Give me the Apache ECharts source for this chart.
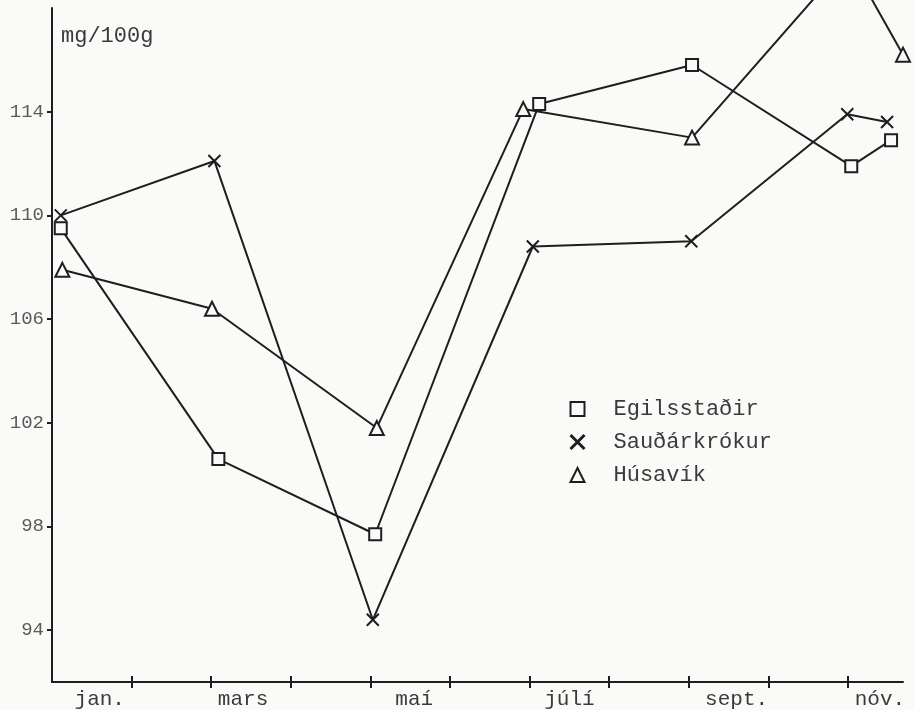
<!DOCTYPE html>
<html>
<head>
<meta charset="utf-8">
<script src="https://cdn.jsdelivr.net/npm/echarts@6/dist/echarts.min.js"></script>
<style>
html,body{margin:0;padding:0;background:#fafaf8;}
#c{width:915px;height:710px;}
</style>
</head>
<body>
<div id="c"></div>
<script>
// Month labels and their positions (month units, 0 = start of jan.)
const monthLabels = ['jan.', 'mars', 'maí', 'júlí', 'sept.', 'nóv.'];
const monthLabelPos = [0.6, 2.4, 4.55, 6.5, 8.6, 10.4];
const monthTicks = [1, 2, 3, 4, 5, 6, 7, 8, 9, 10];
const yTicks = [94, 98, 102, 106, 110, 114];

// Series: sampling times (months) and values (mg/100g)
const seriesNames = ['Egilsstaðir', 'Sauðárkrókur', 'Húsavík'];
const egilsX = [0.11, 2.09, 4.06, 6.12, 8.04, 10.04, 10.54];
const egilsY = [109.5, 100.6, 97.7, 114.3, 115.8, 111.9, 112.9];
const saudX = [0.11, 2.04, 4.03, 6.04, 8.03, 9.99, 10.49];
const saudY = [110.0, 112.1, 94.4, 108.8, 109.0, 113.9, 113.6];
const husX = [0.13, 2.01, 4.08, 5.92, 8.04, 10.01, 10.69];
const husY = [107.9, 106.4, 101.8, 114.1, 113.0, 119.9, 116.2];

const INK = '#1e1e1e';
const TXT = '#3a3a3a';
const FONT = '"Liberation Mono", "DejaVu Sans Mono", monospace';
const crossPath = 'path://M0,0L10,10M10,0L0,10';

function pairs(xs, ys) { return xs.map((x, i) => [x, ys[i]]); }

function mkSeries(name, xs, ys, symbol, size) {
  return {
    name: name,
    type: 'line',
    data: pairs(xs, ys),
    clip: false,
    symbol: symbol,
    symbolSize: size,
    symbolKeepAspect: true,
    showAllSymbol: true,
    lineStyle: { color: INK, width: 2 },
    itemStyle: { color: '#fafaf8', borderColor: INK, borderWidth: 2 },
    emphasis: { disabled: true },
    z: 3
  };
}

const chart = echarts.init(document.getElementById('c'), null, { renderer: 'canvas' });
chart.setOption({
  backgroundColor: '#fafaf8',
  animation: false,
  title: {
    text: 'mg/100g',
    left: 56, top: 20,
    textStyle: { fontFamily: FONT, fontSize: 22, fontWeight: 'normal', color: TXT }
  },
  legend: {
    orient: 'vertical',
    left: 564, top: 393,
    itemWidth: 14, itemHeight: 14,
    itemGap: 11,
    selectedMode: false,
    textStyle: { fontFamily: FONT, fontSize: 22, color: TXT, lineHeight: 22, padding: [0, 0, 0, 24] },
    itemStyle: { color: '#fafaf8', borderColor: INK, borderWidth: 2 },
    data: [
      { name: seriesNames[0], icon: 'rect' },
      { name: seriesNames[1], icon: crossPath, itemStyle: { borderWidth: 3 } },
      { name: seriesNames[2], icon: 'triangle' }
    ]
  },
  grid: { left: 52, right: 12, top: 8, bottom: 28, containLabel: false },
  xAxis: [{
    type: 'value', min: 0, max: 10.69, position: 'bottom',
    axisLine: { show: true, lineStyle: { color: INK, width: 2 } },
    axisTick: { show: true, customValues: monthTicks, length: 6, lineStyle: { color: INK, width: 2 } },
    axisLabel: {
      show: true, customValues: monthLabelPos, margin: 7,
      fontFamily: FONT, fontSize: 21, color: TXT,
      formatter: v => { const i = monthLabelPos.indexOf(v); return i >= 0 ? monthLabels[i] : ''; }
    },
    splitLine: { show: false }
  }, {
    type: 'value', min: 0, max: 10.69, position: 'bottom', offset: 0,
    axisLine: { show: false },
    axisTick: { show: true, inside: true, customValues: monthTicks, length: 6, lineStyle: { color: INK, width: 2 } },
    axisLabel: { show: false },
    splitLine: { show: false }
  }],
  yAxis: {
    type: 'value', min: 92, max: 118,
    axisLine: { show: true, lineStyle: { color: INK, width: 2 } },
    axisTick: { show: true, customValues: yTicks, length: 5, lineStyle: { color: INK, width: 2 } },
    axisLabel: {
      show: true, customValues: yTicks, margin: 8,
      fontFamily: FONT, fontSize: 19, color: '#5a5a5a',
      padding: [0, 0, 10, 0]
    },
    splitLine: { show: false }
  },
  series: [
    mkSeries(seriesNames[0], egilsX, egilsY, 'rect', 12),
    mkSeries(seriesNames[1], saudX, saudY, crossPath, 12),
    mkSeries(seriesNames[2], husX, husY, 'triangle', 14)
  ]
});
</script>
</body>
</html>
